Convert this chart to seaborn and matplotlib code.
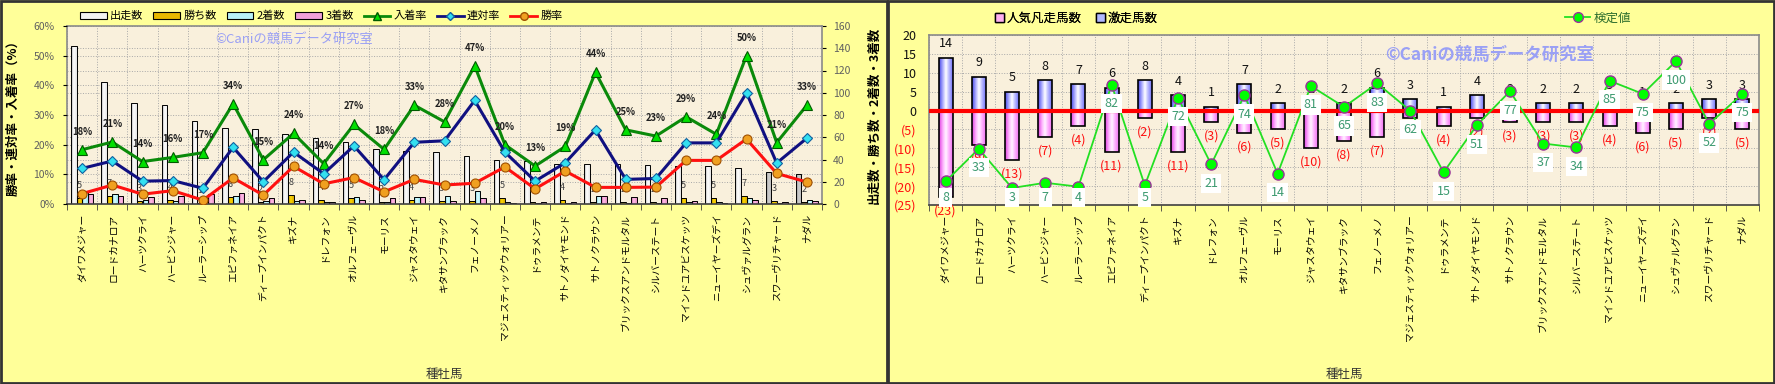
import numpy as np
import pandas as pd
import matplotlib
matplotlib.use("Agg")
import matplotlib.pyplot as plt
import seaborn as sns
from matplotlib.patches import Patch, Rectangle
from matplotlib.lines import Line2D
from matplotlib.colors import LinearSegmentedColormap
from matplotlib.ticker import PercentFormatter

# ------------------ data ------------------
sires = ["ダイワメジャー", "ロードカナロア", "ハーツクライ", "ハービンジャー", "ルーラーシップ",
         "エピファネイア", "ディープインパクト", "キズナ", "ドレフォン", "オルフェーヴル",
         "モーリス", "ジャスタウェイ", "キタサンブラック", "フェノーメノ", "マジェスティックウォリアー",
         "ドゥラメンテ", "サトノダイヤモンド", "サトノクラウン", "ブリックスアンドモルタル", "シルバーステート",
         "マインドユアビスケッツ", "ニューイヤーズデイ", "シュヴァルグラン", "スワーヴリチャード", "ナダル"]

starts = [142, 110, 91, 89, 75, 68, 67, 63, 59, 56, 49, 48, 47, 43, 40, 39, 36, 36, 36, 35, 34, 34, 32, 29, 27]
wins = [5, 7, 3, 4, 1, 6, 2, 8, 4, 5, 2, 4, 3, 3, 5, 2, 4, 2, 2, 2, 5, 5, 7, 3, 2]
seconds = [12, 9, 4, 3, 3, 7, 3, 3, 2, 6, 2, 6, 7, 12, 2, 1, 1, 7, 1, 1, 2, 2, 5, 1, 4]
thirds = [9, 7, 6, 7, 9, 10, 5, 4, 2, 4, 5, 6, 3, 5, 1, 2, 2, 7, 6, 5, 3, 1, 4, 2, 3]

place_rate = [18.3, 20.9, 14.3, 15.7, 17.3, 33.8, 14.9, 23.8, 13.6, 26.8, 18.4, 33.3, 27.7,
              46.6, 20.0, 12.8, 19.4, 44.4, 25.0, 22.9, 29.4, 23.5, 50.0, 20.7, 33.3]
rentai_rate = [12.0, 14.5, 7.7, 7.9, 5.3, 19.1, 7.5, 17.5, 10.2, 19.6, 8.2, 20.8, 21.3,
               34.9, 17.5, 7.7, 13.9, 25.0, 8.3, 8.6, 20.6, 20.6, 37.5, 13.8, 22.2]
win_rate = [3.5, 6.4, 3.3, 4.5, 1.3, 8.8, 3.0, 12.7, 6.8, 8.9, 4.1, 8.3, 6.4,
            7.0, 12.5, 5.1, 11.1, 5.6, 5.6, 5.7, 14.7, 14.7, 21.9, 10.3, 7.4]

gekisou = [14, 9, 5, 8, 7, 6, 8, 4, 1, 7, 2, 2, 2, 6, 3, 1, 4, 2, 2, 2, 3, 1, 2, 3, 3]
bonso = [23, 9, 13, 7, 4, 11, 2, 11, 3, 6, 5, 10, 8, 7, 2, 4, 2, 3, 3, 3, 4, 6, 5, 2, 5]
kentei = [8, 33, 3, 7, 4, 82, 5, 72, 21, 74, 14, 81, 65, 83, 62, 15, 51, 77, 37, 34, 85, 75, 100, 52, 75]

kinds = ["出走数", "勝ち数", "2着数", "3着数"]
kind_colors = {"出走数": "#F2F2F2", "勝ち数": "#E8B800", "2着数": "#B8F0F8", "3着数": "#F0A0D8"}
watermark = "©Caniの競馬データ研究室"

plt.rcParams['font.family'] = ['Noto Sans CJK JP', 'DejaVu Sans']

W, H = 1775, 384
fig = plt.figure(figsize=(W / 100, H / 100), dpi=100)
fig.patch.set_facecolor('#FFFF99')
for x0, x1 in [(1, 887), (888, 1774)]:
    fig.patches.append(Rectangle((x0 / W, 1 / H), (x1 - x0) / W, (H - 2) / H, transform=fig.transFigure,
                                 fill=False, edgecolor='#333333', lw=2))


def box(x0, y0, x1, y1):
    return [x0 / W, 1 - y1 / H, (x1 - x0) / W, (y1 - y0) / H]


def shade(ax, bars, stops):
    # horizontal gradient fill like the excel bars
    cmap = LinearSegmentedColormap.from_list('g', stops, N=64)
    grad = np.linspace(0, 1, 64).reshape(1, -1)
    for p in bars:
        x0, w = p.get_x(), p.get_width()
        y0, h = p.get_y(), p.get_height()
        im = ax.imshow(grad, cmap=cmap, extent=(x0, x0 + w, min(y0, y0 + h), max(y0, y0 + h)),
                       aspect='auto', zorder=p.get_zorder() - 0.01, interpolation='bilinear')
        im.set_clip_path(p)
        p.set_facecolor('none')


def style_plot_area(ax):
    ax.set_facecolor('#F9F0DC')
    for s in ax.spines.values():
        s.set_color('#8A8A8A')
        s.set_linewidth(1.2)
    ax.spines['bottom'].set_color('#404040')
    ax.set_xticks(np.arange(-0.5, len(sires), 1), minor=True)
    ax.grid(which='minor', axis='x', ls=':', color='#A8A8A8', lw=0.7)
    ax.tick_params(axis='x', which='major', length=0, pad=7, labelsize=7, labelrotation=90)
    ax.tick_params(axis='x', which='minor', length=4, color='#404040')
    ax.set_axisbelow(True)


# ------------------ left chart ------------------
axb = fig.add_axes(box(67, 26, 822, 204))
style_plot_area(axb)
counts = pd.DataFrame({'種牡馬': sires, '出走数': starts, '勝ち数': wins, '2着数': seconds, '3着数': thirds})
long = counts.melt(id_vars='種牡馬', var_name='種別', value_name='頭数')
sns.barplot(data=long, x='種牡馬', y='頭数', hue='種別', order=sires, hue_order=kinds, palette=kind_colors,
            width=0.74, saturation=1, edgecolor='black', linewidth=0.7, legend=False, ax=axb)

start_bars = list(axb.containers[0])
shade(axb, start_bars[:-2], [(0, '#A8A8A8'), (0.45, '#FFFFFF'), (1, '#E4E4E4')])
shade(axb, start_bars[-2:], [(0, '#8C8C8C'), (0.45, '#D0D0D0'), (1, '#B4B4B4')])
shade(axb, axb.containers[1], [(0, '#A07800'), (0.45, '#FFD800'), (1, '#D8A800')])
shade(axb, axb.containers[2], [(0, '#60C0D4'), (0.45, '#E0FFFF'), (1, '#98E4F0')])
shade(axb, axb.containers[3], [(0, '#C050A0'), (0.45, '#FFC0E8'), (1, '#E890C8')])

for p, w in zip(axb.containers[1], wins):
    axb.annotate(str(w), (p.get_x() + p.get_width() / 2, p.get_height()), xytext=(0, 9),
                 textcoords='offset points', ha='center', va='center', fontsize=6.5, color='#404040')

axb.set_xlim(-0.5, len(sires) - 0.5)
axb.set_ylim(0, 160)
axb.set_yticks(np.arange(0, 161, 20))
axb.set_yticks(np.linspace(0, 160, 7), minor=True)
axb.grid(which='major', axis='y', ls=':', color='#A8A8A8', lw=0.7)
axb.grid(which='minor', axis='y', ls=':', color='#A8A8A8', lw=0.7)
axb.tick_params(axis='y', which='minor', length=0)

axl = axb.twinx()
axb.yaxis.tick_right()
axb.yaxis.set_label_position('right')
axl.yaxis.tick_left()
axl.yaxis.set_label_position('left')
for s in axl.spines.values():
    s.set_visible(False)

sns.pointplot(x=sires, y=place_rate, ax=axl, errorbar=None, color='#0A8A0A', marker='^', markersize=7,
              linewidth=2.2, markerfacecolor='#00E000', markeredgecolor='#005A00', markeredgewidth=0.8)
sns.pointplot(x=sires, y=rentai_rate, ax=axl, errorbar=None, color='#101080', marker='D', markersize=5,
              linewidth=2.2, markerfacecolor='#33E0F0', markeredgecolor='#1060A0', markeredgewidth=0.8)
sns.pointplot(x=sires, y=win_rate, ax=axl, errorbar=None, color='#FF1010', marker='o', markersize=6.5,
              linewidth=2.2, markerfacecolor='#F0A020', markeredgecolor='#A05000', markeredgewidth=0.8)

gx = axl.lines[0].get_xdata()
for x, v in zip(gx, place_rate):
    axl.annotate(f"{int(v + 0.5)}%", (x, v), xytext=(0, 13), textcoords='offset points',
                 ha='center', va='center', fontsize=6.8, fontweight='bold', color='#202020')

axl.set_xlim(-0.5, len(sires) - 0.5)
axl.set_ylim(0, 60)
axl.set_yticks(np.arange(0, 61, 10))
axl.yaxis.set_major_formatter(PercentFormatter(decimals=0))
axl.tick_params(axis='y', labelsize=7.5, labelcolor='#606060', length=3, pad=6)
axb.tick_params(axis='y', which='major', labelsize=7.5, labelcolor='#606060', length=3, pad=5)
axl.set_ylabel('勝率・連対率・入着率（%）', fontsize=9, fontweight='bold')
axl.yaxis.set_label_coords((19 - 67) / 755, 0.5)
axb.set_ylabel('出走数・勝ち数・2着数・3着数', fontsize=9, fontweight='bold')
axb.yaxis.set_label_coords((868 - 67) / 755, 0.5)
axb.set_xlabel('種牡馬', fontsize=9, color='#333333')
axb.xaxis.set_label_coords(0.5, (204 - 368) / 178)
axl.set_xlabel('')

left_handles = [Patch(facecolor=kind_colors[k], edgecolor='black', lw=0.8) for k in kinds] + [
    Line2D([], [], color='#0A8A0A', lw=2, marker='^', ms=6, mfc='#00E000', mec='#005A00'),
    Line2D([], [], color='#101080', lw=2, marker='D', ms=4.5, mfc='#33E0F0', mec='#1060A0'),
    Line2D([], [], color='#FF1010', lw=2, marker='o', ms=5.5, mfc='#F0A020', mec='#A05000')]
fig.legend(left_handles, kinds + ['入着率', '連対率', '勝率'], loc='center left',
           bbox_to_anchor=(80 / W, 1 - 16 / H), bbox_transform=fig.transFigure, ncol=7, frameon=False,
           fontsize=8, handlelength=2.4, handleheight=0.55, columnspacing=0.9, handletextpad=0.3,
           borderaxespad=0, borderpad=0)
fig.text(215 / W, 1 - 39 / H, watermark, fontsize=9.5, color='#9AA0F5', ha='left', va='center')

# ------------------ right chart ------------------
axr = fig.add_axes(box(929, 35, 1759, 205))
style_plot_area(axr)
sns.barplot(x=sires, y=gekisou, color='#B0B8FF', width=0.42, saturation=1, edgecolor='black',
            linewidth=1.2, ax=axr)
sns.barplot(x=sires, y=np.negative(bonso), color='#FFB0F0', width=0.42, saturation=1, edgecolor='black',
            linewidth=1.2, ax=axr)
shade(axr, axr.containers[0], [(0, '#4848E8'), (0.3, '#B8B8FF'), (0.5, '#FFFFFF'), (0.7, '#C0C0FF'), (1, '#7070F8')])
shade(axr, axr.containers[1], [(0, '#E040E0'), (0.3, '#FFB8FF'), (0.5, '#FFF4FF'), (0.7, '#FFB8FF'), (1, '#F070F0')])

for p, v in zip(axr.containers[0], gekisou):
    axr.annotate(str(v), (p.get_x() + p.get_width() / 2, p.get_y() + p.get_height()), xytext=(0, 10),
                 textcoords='offset points', ha='center', va='center', fontsize=9, color='#111111')
for p, v in zip(axr.containers[1], bonso):
    axr.annotate(f"({v})", (p.get_x() + p.get_width() / 2, p.get_y() + p.get_height()), xytext=(0, -10),
                 textcoords='offset points', ha='center', va='center', fontsize=9, color='#FF1010',
                 annotation_clip=False)

axr.axhline(0, color='#FF0000', lw=3, zorder=3)
axr.set_xlim(-0.5, len(sires) - 0.5)
axr.set_ylim(-25, 20)
yt = np.arange(-25, 21, 5)
axr.set_yticks(yt)
axr.set_yticklabels([f"({-t})" if t < 0 else str(t) for t in yt])
for lab, t in zip(axr.get_yticklabels(), yt):
    lab.set_color('#FF1010' if t < 0 else '#111111')
axr.tick_params(axis='y', labelsize=9, length=0, pad=9)
axr.grid(which='major', axis='y', ls=':', color='#A8A8A8', lw=0.7)
axr.set_ylabel('')
axr.set_xlabel('種牡馬', fontsize=9, color='#333333')
axr.xaxis.set_label_coords(0.5, (205 - 368) / 170)

axk = axr.twinx()
for s in axk.spines.values():
    s.set_visible(False)
sns.pointplot(x=sires, y=kentei, ax=axk, errorbar=None, color='#22E022', marker='o', markersize=8,
              linewidth=1.3, markerfacecolor='#00FF00', markeredgecolor='#993399', markeredgewidth=1)
axk.set_xlim(-0.5, len(sires) - 0.5)
axk.set_ylim(-10, 120)
axk.set_yticks([])
axk.set_ylabel('')
axk.set_xlabel('')
kx = axk.lines[0].get_xdata()
for x, v in zip(kx, kentei):
    axk.text(x, max(v - 14.5, -4.4), str(v), ha='center', va='center', fontsize=9, color='#3C9A70',
             bbox=dict(boxstyle='square,pad=0.25', fc='white', ec='none'))

leg1 = fig.legend([Patch(facecolor='#FFB0F0', edgecolor='black'), Patch(facecolor='#B0B8FF', edgecolor='black')],
                  ['人気凡走馬数', '激走馬数'], loc='center left', bbox_to_anchor=(995 / W, 1 - 18 / H),
                  bbox_transform=fig.transFigure, ncol=2, frameon=False, fontsize=9, handlelength=0.7,
                  handleheight=0.7, columnspacing=1.2, handletextpad=0.2, borderaxespad=0, borderpad=0)
leg2 = fig.legend([Line2D([], [], color='#22E022', lw=1.3, marker='o', ms=7, mfc='#00FF00', mec='#993399')],
                  ['検定値'], loc='center left', bbox_to_anchor=(1565 / W, 1 - 18 / H),
                  bbox_transform=fig.transFigure, frameon=False, fontsize=9, handlelength=2,
                  handletextpad=0.3, borderaxespad=0, borderpad=0)
leg2.get_texts()[0].set_color('#2D6E2D')
fig.add_artist(leg1)
fig.text(1385 / W, 1 - 55 / H, watermark, fontsize=12.5, fontweight='bold', color='#9AA0F5',
         ha='left', va='center')

fig.savefig('out.png', dpi=100, facecolor=fig.get_facecolor())
